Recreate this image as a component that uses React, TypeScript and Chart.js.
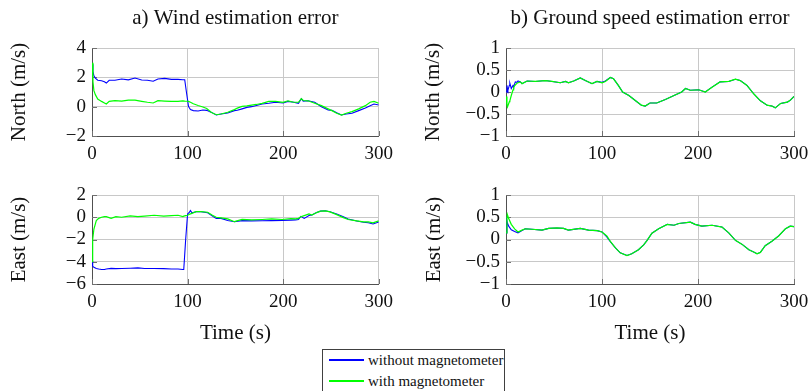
import React, { useEffect, useRef } from "react";
import { Chart, registerables } from "chart.js";

Chart.register(...registerables);

// ---------------- data ----------------
const TIME_WIND_N = [0, 1, 2, 3.5, 6, 10, 13, 15, 18, 24, 31, 38, 45, 52, 58, 64, 69, 76, 83, 90, 95, 97, 99, 101, 103, 106, 111, 116, 120, 125, 130, 135, 142, 149, 152, 157, 162, 167, 172, 178, 185, 192, 200, 205, 211, 216, 219, 221, 226, 233, 240, 247, 251, 256, 261, 266, 272, 279, 286, 291, 295, 300];
const WIND_N_NO_MAG = [2.9, 2.4, 2.1, 1.95, 1.8, 1.77, 1.7, 1.61, 1.8, 1.8, 1.89, 1.83, 1.95, 1.82, 1.8, 1.73, 1.89, 1.93, 1.86, 1.86, 1.84, 1.84, 0.9, 0.0, -0.2, -0.27, -0.3, -0.23, -0.25, -0.39, -0.57, -0.5, -0.43, -0.27, -0.25, -0.15, -0.05, 0.0, 0.08, 0.18, 0.23, 0.3, 0.25, 0.36, 0.3, 0.23, 0.55, 0.38, 0.4, 0.3, 0.0, -0.23, -0.25, -0.42, -0.57, -0.5, -0.45, -0.27, -0.09, 0.07, 0.18, 0.11];
const WIND_N_MAG = [3.0, 1.7, 1.09, 0.82, 0.52, 0.36, 0.25, 0.18, 0.36, 0.41, 0.38, 0.45, 0.44, 0.36, 0.3, 0.25, 0.41, 0.38, 0.36, 0.36, 0.4, 0.38, 0.37, 0.36, 0.3, 0.2, 0.08, -0.02, -0.12, -0.4, -0.55, -0.5, -0.38, -0.2, -0.1, 0.02, 0.05, 0.1, 0.15, 0.23, 0.36, 0.36, 0.3, 0.4, 0.3, 0.3, 0.55, 0.42, 0.4, 0.23, 0.07, -0.15, -0.27, -0.45, -0.57, -0.45, -0.34, -0.15, 0.07, 0.3, 0.36, 0.23];

const TIME_WIND_E = [0, 0.7, 2, 4.5, 7, 10, 13, 15, 20, 25, 31, 40, 48, 55, 65, 75, 83, 90, 95, 96, 98, 100, 101.5, 103, 104.5, 109, 114, 121, 126, 130, 135, 142, 149, 157, 167, 178, 188, 199, 208, 213, 216, 218.5, 222, 227, 230, 235, 239, 244, 249, 256, 263, 268, 277, 284, 289, 294, 300];
const WIND_E_NO_MAG = [-3.95, -4.4, -4.5, -4.6, -4.65, -4.7, -4.7, -4.65, -4.6, -4.62, -4.6, -4.58, -4.55, -4.6, -4.6, -4.62, -4.65, -4.65, -4.7, -4.7, -2.0, 0.3, 0.4, 0.6, 0.4, 0.5, 0.5, 0.4, 0.1, -0.1, -0.1, -0.3, -0.4, -0.3, -0.33, -0.32, -0.3, -0.28, -0.26, -0.24, -0.2, 0.08, -0.1, 0.15, 0.2, 0.42, 0.55, 0.58, 0.5, 0.3, 0.05, -0.15, -0.33, -0.45, -0.5, -0.6, -0.42];
const WIND_E_MAG = [-4.0, -2.0, -1.06, -0.3, -0.1, 0.0, 0.05, 0.05, -0.1, 0.05, 0.0, 0.12, 0.05, 0.1, 0.18, 0.1, 0.15, 0.18, 0.05, 0.1, 0.15, 0.18, 0.25, 0.3, 0.35, 0.5, 0.5, 0.45, 0.18, 0.0, -0.05, -0.15, -0.4, -0.2, -0.24, -0.2, -0.15, -0.2, -0.12, -0.15, -0.1, 0.05, 0.15, 0.3, 0.2, 0.42, 0.55, 0.58, 0.48, 0.24, -0.03, -0.2, -0.33, -0.42, -0.42, -0.5, -0.33];

const TIME_GS_N = [0, 1, 1.5, 2, 3.5, 4, 5.5, 7.3, 8, 9.7, 11.5, 12.5, 15, 16.7, 22, 30.5, 41, 48, 56.6, 62, 65, 70.5, 77.4, 82.6, 89.6, 94.8, 100, 103.5, 108.7, 112, 117, 121.5, 128, 135, 141, 145, 150, 157, 166, 175, 183, 187, 192, 200.7, 207.6, 214.6, 223, 232, 239, 244, 251, 258, 265, 272, 277, 280.5, 286, 293, 296, 300];
const GS_N_NO_MAG = [0.0, 0.15, 0.08, 0.04, 0.15, 0.2, 0.08, 0.15, 0.12, 0.23, 0.22, 0.25, 0.23, 0.19, 0.25, 0.24, 0.26, 0.24, 0.21, 0.24, 0.21, 0.25, 0.32, 0.26, 0.19, 0.24, 0.22, 0.25, 0.33, 0.3, 0.15, 0.0, -0.08, -0.2, -0.3, -0.32, -0.25, -0.25, -0.17, -0.08, 0.0, 0.08, 0.04, 0.05, 0.0, 0.11, 0.23, 0.24, 0.29, 0.26, 0.15, -0.04, -0.2, -0.3, -0.32, -0.36, -0.26, -0.23, -0.19, -0.1];
const GS_N_MAG = [-0.1, -0.3, -0.34, -0.34, -0.22, -0.2, -0.08, 0.05, 0.11, 0.16, 0.2, 0.21, 0.23, 0.19, 0.25, 0.24, 0.26, 0.24, 0.21, 0.24, 0.21, 0.25, 0.32, 0.26, 0.19, 0.24, 0.21, 0.24, 0.33, 0.3, 0.15, 0.0, -0.08, -0.2, -0.3, -0.32, -0.25, -0.25, -0.17, -0.08, 0.0, 0.08, 0.04, 0.05, 0.0, 0.11, 0.23, 0.24, 0.29, 0.26, 0.15, -0.04, -0.2, -0.3, -0.32, -0.36, -0.26, -0.23, -0.19, -0.1];

const TIME_GS_E = [0, 1, 1.4, 2.8, 5.5, 9, 12.5, 16.7, 20, 27, 37.5, 44.4, 53, 60, 65, 77.4, 86, 95, 100, 105, 108.7, 114, 119, 126, 131, 138, 143.4, 147, 152, 159, 168, 175, 180, 192, 197, 204, 214.6, 225, 232, 239, 246, 253, 258, 261.5, 265, 270, 277, 284, 291, 296, 300];
const GS_E_NO_MAG = [0.15, 0.42, 0.38, 0.3, 0.22, 0.18, 0.15, 0.2, 0.24, 0.23, 0.21, 0.25, 0.26, 0.25, 0.21, 0.25, 0.21, 0.2, 0.17, 0.06, -0.05, -0.19, -0.3, -0.36, -0.32, -0.23, -0.12, -0.02, 0.14, 0.24, 0.34, 0.32, 0.36, 0.39, 0.34, 0.3, 0.32, 0.28, 0.15, -0.02, -0.11, -0.23, -0.28, -0.32, -0.29, -0.14, -0.04, 0.08, 0.24, 0.3, 0.29];
const GS_E_MAG = [0.15, 0.45, 0.56, 0.47, 0.34, 0.24, 0.17, 0.21, 0.24, 0.23, 0.21, 0.25, 0.26, 0.25, 0.21, 0.25, 0.21, 0.2, 0.17, 0.08, -0.04, -0.19, -0.3, -0.36, -0.32, -0.23, -0.12, -0.02, 0.14, 0.24, 0.34, 0.32, 0.36, 0.39, 0.34, 0.3, 0.32, 0.28, 0.15, -0.02, -0.11, -0.23, -0.28, -0.32, -0.29, -0.14, -0.04, 0.08, 0.24, 0.3, 0.29];

const X_TICKS = [0, 100, 200, 300];
const Y_TICKS_WIND_N = [-2, 0, 2, 4];
const Y_TICKS_WIND_E = [-6, -4, -2, 0, 2];
const Y_TICKS_GS = [-1, -0.5, 0, 0.5, 1];

const TITLE_A = "a) Wind estimation error";
const TITLE_B = "b) Ground speed estimation error";
const LABEL_NORTH = "North (m/s)";
const LABEL_EAST = "East (m/s)";
const LABEL_TIME = "Time (s)";
const SERIES_NAMES = ["without magnetometer", "with magnetometer"];

// ---------------- styles ----------------
const FONT = '"Liberation Serif", "Times New Roman", serif';
const BLUE = "#0000ff";
const GREEN = "#00ff00";
const GRID = "#c8c8c8";
const AXIS = "#505050";
const TEXT = "#111111";
const LABEL_SIZE = 21;
const LABEL_LH = LABEL_SIZE * 1.2;

type Panel = {
  key: string;
  box: { left: number; top: number; width: number; height: number };
  plot: { left: number; right: number; top: number; bottom: number };
  title?: string;
  yTitle: string;
  yTitleCenter: number;
  xTitle?: string;
  time: number[];
  noMag: number[];
  mag: number[];
  yTicks: number[];
};

const PANELS: Panel[] = [
  { key: "wn", box: { left: 0, top: 0, width: 400, height: 170 }, plot: { left: 92, right: 379, top: 48, bottom: 136 }, title: TITLE_A, yTitle: LABEL_NORTH, yTitleCenter: 19, time: TIME_WIND_N, noMag: WIND_N_NO_MAG, mag: WIND_N_MAG, yTicks: Y_TICKS_WIND_N },
  { key: "gn", box: { left: 400, top: 0, width: 420, height: 170 }, plot: { left: 106, right: 394, top: 48, bottom: 136 }, title: TITLE_B, yTitle: LABEL_NORTH, yTitleCenter: 33.5, time: TIME_GS_N, noMag: GS_N_NO_MAG, mag: GS_N_MAG, yTicks: Y_TICKS_GS },
  { key: "we", box: { left: 0, top: 170, width: 400, height: 180 }, plot: { left: 92, right: 379, top: 25, bottom: 114 }, yTitle: LABEL_EAST, yTitleCenter: 19, xTitle: LABEL_TIME, time: TIME_WIND_E, noMag: WIND_E_NO_MAG, mag: WIND_E_MAG, yTicks: Y_TICKS_WIND_E },
  { key: "ge", box: { left: 400, top: 170, width: 420, height: 180 }, plot: { left: 106, right: 394, top: 25, bottom: 114 }, yTitle: LABEL_EAST, yTitleCenter: 34, xTitle: LABEL_TIME, time: TIME_GS_E, noMag: GS_E_NO_MAG, mag: GS_E_MAG, yTicks: Y_TICKS_GS },
];

const fmt = (v: number) => (v < 0 ? "\u2212" + String(Math.abs(v)) : String(v));

const innerTicks = {
  id: "innerTicks",
  beforeDatasetsDraw(chart: any) {
    const { ctx, chartArea, scales } = chart;
    const len = 5;
    ctx.save();
    ctx.strokeStyle = "#707070";
    ctx.lineWidth = 1;
    ctx.beginPath();
    for (const t of scales.x.ticks) {
      const px = Math.round(scales.x.getPixelForValue(t.value)) + 0.5;
      ctx.moveTo(px, chartArea.bottom);
      ctx.lineTo(px, chartArea.bottom - len);
    }
    for (const t of scales.y.ticks) {
      const py = Math.round(scales.y.getPixelForValue(t.value)) + 0.5;
      ctx.moveTo(chartArea.left, py);
      ctx.lineTo(chartArea.left + len, py);
    }
    ctx.stroke();
    ctx.restore();
  },
};

function makeChart(canvas: HTMLCanvasElement, p: Panel) {
  const H = p.box.height;
  const W = p.box.width;
  const titlePadTop = 18 - LABEL_LH / 2;
  return new Chart(canvas, {
    type: "line",
    data: {
      datasets: [
        {
          label: SERIES_NAMES[0],
          data: p.time.map((t, i) => ({ x: t, y: p.noMag[i] })),
          borderColor: BLUE,
          borderWidth: 1.1,
          pointRadius: 0,
          tension: 0,
          order: 1,
        },
        {
          label: SERIES_NAMES[1],
          data: p.time.map((t, i) => ({ x: t, y: p.mag[i] })),
          borderColor: GREEN,
          borderWidth: 1.2,
          pointRadius: 0,
          tension: 0,
          order: 0,
        },
      ],
    },
    options: {
      responsive: false,
      animation: false,
      devicePixelRatio: 1,
      layout: {
        padding: { left: 0, right: W - p.plot.right, top: p.title ? 0 : p.plot.top, bottom: 0 },
      },
      plugins: {
        legend: { display: false },
        tooltip: { enabled: false },
        title: p.title
          ? {
              display: true,
              text: p.title,
              fullSize: false,
              color: TEXT,
              font: { family: FONT, size: LABEL_SIZE, weight: "normal" },
              padding: { top: titlePadTop, bottom: p.plot.top - titlePadTop - LABEL_LH },
            }
          : { display: false },
      },
      scales: {
        x: {
          type: "linear",
          min: 0,
          max: 300,
          afterBuildTicks: (s: any) => {
            s.ticks = X_TICKS.map((v) => ({ value: v }));
          },
          afterFit: (s: any) => {
            s.height = H - p.plot.bottom;
          },
          grid: { color: GRID, lineWidth: 1, drawTicks: false },
          border: { display: true, color: AXIS, width: 1 },
          ticks: {
            color: TEXT,
            font: { family: FONT, size: 19 },
            padding: 7,
            maxRotation: 0,
            autoSkip: false,
            callback: (v: any) => fmt(Number(v)),
          },
          title: p.xTitle
            ? { display: true, text: p.xTitle, color: TEXT, font: { family: FONT, size: LABEL_SIZE }, padding: { top: 0, bottom: 17 - LABEL_LH / 2 } }
            : { display: false },
        },
        y: {
          type: "linear",
          min: p.yTicks[0],
          max: p.yTicks[p.yTicks.length - 1],
          afterBuildTicks: (s: any) => {
            s.ticks = p.yTicks.map((v) => ({ value: v }));
          },
          afterFit: (s: any) => {
            s.width = p.plot.left;
          },
          grid: { color: GRID, lineWidth: 1, drawTicks: false },
          border: { display: true, color: AXIS, width: 1 },
          ticks: {
            color: TEXT,
            font: { family: FONT, size: 19 },
            padding: 6,
            autoSkip: false,
            callback: (v: any) => fmt(Number(v)),
          },
          title: {
            display: true,
            text: p.yTitle,
            color: TEXT,
            font: { family: FONT, size: LABEL_SIZE },
            padding: { top: p.yTitleCenter - LABEL_LH / 2, bottom: 0 },
          },
        },
      },
    },
    plugins: [innerTicks],
  } as any);
}

export default function App() {
  const refs = useRef<(HTMLCanvasElement | null)[]>([]);

  useEffect(() => {
    let alive = true;
    const charts = PANELS.map((p, i) => makeChart(refs.current[i] as HTMLCanvasElement, p));
    const fonts = (document as any).fonts;
    if (fonts && fonts.load) {
      Promise.all([fonts.load('19px "Liberation Serif"'), fonts.load('21px "Liberation Serif"')])
        .then(() => fonts.ready)
        .then(() => {
          if (alive) charts.forEach((c) => c.update());
        })
        .catch(() => {});
    }
    return () => {
      alive = false;
      charts.forEach((c) => c.destroy());
    };
  }, []);

  return (
    <div style={{ position: "absolute", left: 0, top: 0, width: 809, height: 391, overflow: "hidden", background: "#ffffff" }}>
      {PANELS.map((p, i) => (
        <canvas
          key={p.key}
          ref={(el) => {
            refs.current[i] = el;
          }}
          width={p.box.width}
          height={p.box.height}
          style={{ position: "absolute", left: p.box.left, top: p.box.top, width: p.box.width, height: p.box.height }}
        />
      ))}
      <div
        style={{
          position: "absolute",
          left: 322,
          top: 349,
          width: 183,
          height: 60,
          boxSizing: "border-box",
          border: "1px solid #404040",
          background: "#ffffff",
          fontFamily: FONT,
          fontSize: 15,
          color: TEXT,
        }}
      >
        {[BLUE, GREEN].map((c, i) => (
          <div key={c} style={{ position: "absolute", left: 0, top: i === 0 ? 0 : 21, width: "100%", height: 20 }}>
            <div style={{ position: "absolute", left: 6, top: 9, width: 35, height: 2, background: c }} />
            <div style={{ position: "absolute", left: 45, top: 0, height: 20, lineHeight: "20px", whiteSpace: "nowrap" }}>
              {SERIES_NAMES[i]}
            </div>
          </div>
        ))}
      </div>
    </div>
  );
}
